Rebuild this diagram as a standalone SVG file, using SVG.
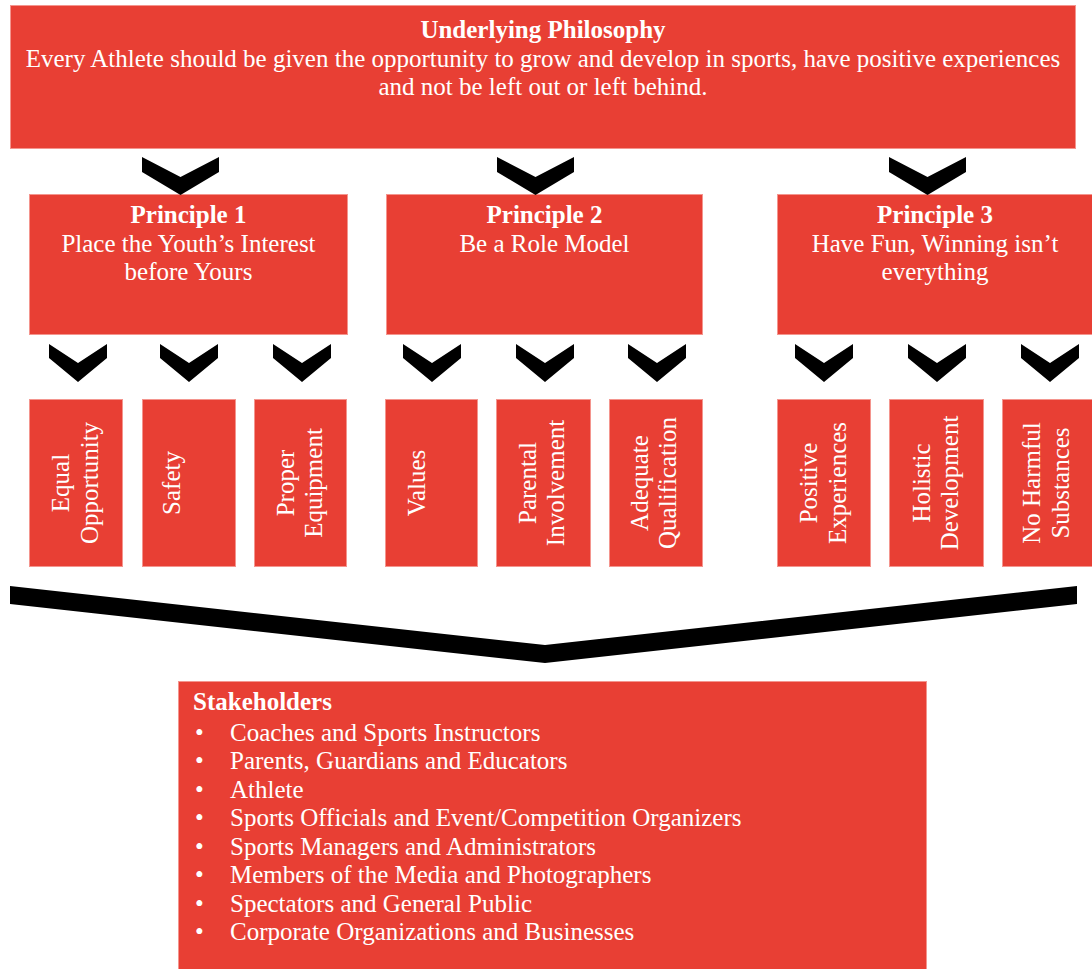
<svg xmlns="http://www.w3.org/2000/svg" width="1092" height="969" viewBox="0 0 1092 969">
  <style>
    .box { fill: #E83F34; stroke: #F4958E; stroke-width: 1; }
    .t { font-family: "Liberation Serif", "Times New Roman", serif; font-size: 25px; fill: #FFFFFF; }
    .b { font-weight: bold; }
    .c { text-anchor: middle; }
    .chev { fill: #000000; }
  </style>
  <defs>
    <polygon id="chevBig" class="chev" points="0,0 38.5,20 77,0 77,15 38.5,38 0,15"/>
    <polygon id="chevSmall" class="chev" points="0,0 29,19 58,0 58,14 29,38 0,14"/>
  </defs>

  <rect width="1092" height="969" fill="#FFFFFF"/>

  <!-- Philosophy -->
  <g id="philosophy">
    <rect class="box" x="10.5" y="5.5" width="1065" height="143"/>
    <text class="t b c" x="543" y="38">Underlying Philosophy</text>
    <text class="t c" x="543" y="66.5">Every Athlete should be given the opportunity to grow and develop in sports, have positive experiences</text>
    <text class="t c" x="543" y="95">and not be left out or left behind.</text>
  </g>

  <!-- Principles -->
  <g id="principle1">
    <rect class="box" x="29.5" y="194.5" width="318" height="140"/>
    <text class="t b c" x="188.5" y="223">Principle 1</text>
    <text class="t c" x="188.5" y="251.5">Place the Youth’s Interest</text>
    <text class="t c" x="188.5" y="280">before Yours</text>
  </g>
  <g id="principle2">
    <rect class="box" x="386.5" y="194.5" width="316" height="140"/>
    <text class="t b c" x="544.5" y="223">Principle 2</text>
    <text class="t c" x="544.5" y="251.5">Be a Role Model</text>
  </g>
  <g id="principle3">
    <rect class="box" x="777.5" y="194.5" width="320" height="140"/>
    <text class="t b c" x="935" y="223">Principle 3</text>
    <text class="t c" x="935" y="251.5">Have Fun, Winning isn’t</text>
    <text class="t c" x="935" y="280">everything</text>
  </g>

  <!-- Practices (vertical labels, rotated about each box centre) -->
  <g id="equal-opportunity">
    <rect class="box" x="29.5" y="399.5" width="93" height="167"/>
    <g transform="translate(76,483) rotate(-90)">
      <text class="t c" x="0" y="-7">Equal</text>
      <text class="t c" x="0" y="21.5">Opportunity</text>
    </g>
  </g>
  <g id="safety">
    <rect class="box" x="142.5" y="399.5" width="93" height="167"/>
    <g transform="translate(189,483) rotate(-90)">
      <text class="t c" x="0" y="-9">Safety</text>
    </g>
  </g>
  <g id="proper-equipment">
    <rect class="box" x="254.5" y="399.5" width="92" height="167"/>
    <g transform="translate(300.5,483) rotate(-90)">
      <text class="t c" x="0" y="-7">Proper</text>
      <text class="t c" x="0" y="21.5">Equipment</text>
    </g>
  </g>
  <g id="values">
    <rect class="box" x="385.5" y="399.5" width="92" height="167"/>
    <g transform="translate(431.5,483) rotate(-90)">
      <text class="t c" x="0" y="-7">Values</text>
    </g>
  </g>
  <g id="parental-involvement">
    <rect class="box" x="496.5" y="399.5" width="94" height="167"/>
    <g transform="translate(543.5,483) rotate(-90)">
      <text class="t c" x="0" y="-8">Parental</text>
      <text class="t c" x="0" y="20.5">Involvement</text>
    </g>
  </g>
  <g id="adequate-qualification">
    <rect class="box" x="609.5" y="399.5" width="93" height="167"/>
    <g transform="translate(656,483) rotate(-90)">
      <text class="t c" x="0" y="-8.5">Adequate</text>
      <text class="t c" x="0" y="20">Qualification</text>
    </g>
  </g>
  <g id="positive-experiences">
    <rect class="box" x="777.5" y="399.5" width="93" height="167"/>
    <g transform="translate(824,483) rotate(-90)">
      <text class="t c" x="0" y="-7">Positive</text>
      <text class="t c" x="0" y="21.5">Experiences</text>
    </g>
  </g>
  <g id="holistic-development">
    <rect class="box" x="889.5" y="399.5" width="94" height="167"/>
    <g transform="translate(936.5,483) rotate(-90)">
      <text class="t c" x="0" y="-7">Holistic</text>
      <text class="t c" x="0" y="21.5">Development</text>
    </g>
  </g>
  <g id="no-harmful-substances">
    <rect class="box" x="1002.5" y="399.5" width="95" height="167"/>
    <g transform="translate(1047,483) rotate(-90)">
      <text class="t c" x="0" y="-7">No Harmful</text>
      <text class="t c" x="0" y="21.5">Substances</text>
    </g>
  </g>

  <!-- Stakeholders -->
  <g id="stakeholders">
    <rect class="box" x="178.5" y="681.5" width="748" height="300"/>
    <text class="t b" x="193" y="710">Stakeholders</text>
    <g class="t">
      <text x="195" y="740.5">•</text><text x="230" y="740.5">Coaches and Sports Instructors</text>
      <text x="195" y="769">•</text><text x="230" y="769">Parents, Guardians and Educators</text>
      <text x="195" y="797.5">•</text><text x="230" y="797.5">Athlete</text>
      <text x="195" y="826">•</text><text x="230" y="826">Sports Officials and Event/Competition Organizers</text>
      <text x="195" y="854.5">•</text><text x="230" y="854.5">Sports Managers and Administrators</text>
      <text x="195" y="883">•</text><text x="230" y="883">Members of the Media and Photographers</text>
      <text x="195" y="911.5">•</text><text x="230" y="911.5">Spectators and General Public</text>
      <text x="195" y="940">•</text><text x="230" y="940">Corporate Organizations and Businesses</text>
    </g>
  </g>

  <!-- Connectors: chevrons between levels -->
  <g id="connectors">
    <use href="#chevBig" x="142" y="157"/>
    <use href="#chevBig" x="497" y="157"/>
    <use href="#chevBig" x="889" y="157"/>

    <use href="#chevSmall" x="49" y="344"/>
    <use href="#chevSmall" x="160" y="344"/>
    <use href="#chevSmall" x="273" y="344"/>
    <use href="#chevSmall" x="403" y="344"/>
    <use href="#chevSmall" x="516" y="344"/>
    <use href="#chevSmall" x="628" y="344"/>
    <use href="#chevSmall" x="795" y="344"/>
    <use href="#chevSmall" x="908" y="344"/>
    <use href="#chevSmall" x="1021" y="344"/>

    <polygon class="chev" points="10,586 545,645 1077,586 1077,604 545,663 10,604"/>
  </g>
</svg>
